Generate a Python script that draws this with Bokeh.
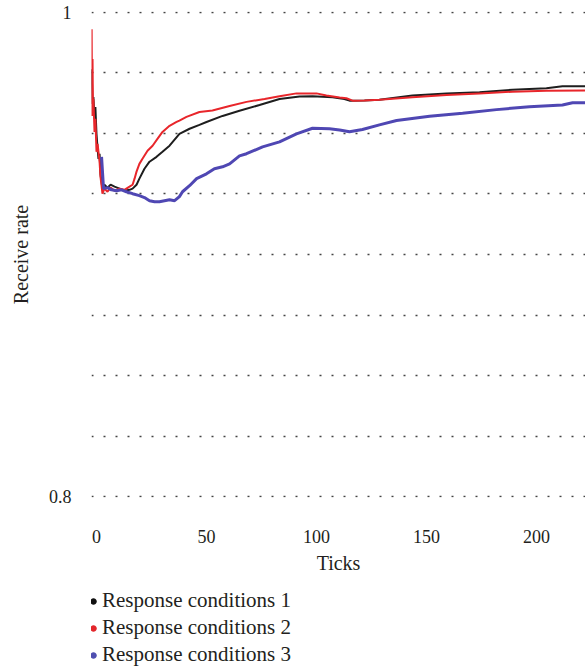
from bokeh.plotting import figure
from bokeh.models import (ColumnDataSource, Range1d, FixedTicker, SingleIntervalTicker,
                          Legend, LegendItem)
from bokeh.layouts import column
from bokeh.embed import file_html
from bokeh.resources import INLINE

# ---------------- data ----------------
x_ticks = [0, 50, 100, 150, 200]
y_ticks = [0.8, 1.0]
series_names = ["Response conditions 1", "Response conditions 2", "Response conditions 3"]

t1 = [-2.2, -1.8, -1.4, -0.9, -0.5, 0, 0.5, 0.9, 1.4, 1.8, 2.3, 2.7, 3.6, 5, 6.4,
      8.2, 10.5, 12.7, 15, 16.4, 18.2, 19.5, 21.8, 24.1, 27.3, 30, 33.2, 37.7, 42.3,
      46.8, 50, 57.3, 65, 74.1, 83.2, 92.3, 98.2, 107.3, 112.7, 115, 121.8, 128.6,
      143.6, 159.1, 174.1, 189.1, 204.5, 211.8, 222.3]
v1 = [0.9765, 0.9621, 0.9650, 0.9560, 0.9609, 0.9498, 0.9436, 0.9395, 0.9416, 0.9333,
      0.9300, 0.9272, 0.9288, 0.9276, 0.9288, 0.9280, 0.9272, 0.9263, 0.9267, 0.9272,
      0.9288, 0.9313, 0.9354, 0.9383, 0.9403, 0.9424, 0.9449, 0.9498, 0.9519, 0.9535,
      0.9547, 0.9572, 0.9593, 0.9617, 0.9642, 0.9652, 0.9653, 0.9649, 0.9642, 0.9635,
      0.9636, 0.9639, 0.9656, 0.9665, 0.9670, 0.9680, 0.9686, 0.9694, 0.9694]

t2 = [-2.2, -2.0, -1.8, -1.6, -1.4, -0.9, -0.5, 0, 0.5, 1.4, 1.8, 2.3, 2.7, 3.6, 5,
      6.4, 8.2, 10.5, 12.7, 15, 16.4, 17.3, 18.2, 19.5, 20.9, 23.2, 25.5, 27.7, 30,
      33.2, 36.4, 37.7, 40.9, 46.8, 52.7, 60.5, 68.2, 76.4, 83.2, 90.9, 100, 104.5,
      110.5, 113.6, 116.4, 121.8, 128.6, 143.6, 159.1, 174.1, 189.1, 204.5, 222.3]
v2 = [0.9930, 0.9572, 0.9807, 0.9601, 0.9642, 0.9506, 0.9560, 0.9424, 0.9457, 0.9383,
      0.9321, 0.9284, 0.9251, 0.9272, 0.9259, 0.9276, 0.9263, 0.9272, 0.9267, 0.9280,
      0.9288, 0.9313, 0.9342, 0.9374, 0.9395, 0.9428, 0.9449, 0.9477, 0.9506, 0.9531,
      0.9547, 0.9553, 0.9568, 0.9588, 0.9594, 0.9613, 0.9630, 0.9642, 0.9653, 0.9665,
      0.9665, 0.9656, 0.9648, 0.9645, 0.9635, 0.9636, 0.9639, 0.9649, 0.9658, 0.9665,
      0.9672, 0.9676, 0.9677]

t3 = [2.3, 3.2, 5, 6.8, 9.1, 11.4, 13.6, 16.4, 19.5, 21.8, 24.1, 26.4, 28.6, 30.9,
      33.2, 35.5, 37.7, 39.1, 42.3, 45.5, 50, 53.6, 57.3, 60.5, 65, 68.2, 75.5, 83.2,
      90.9, 98.2, 105.9, 110.5, 115, 120.9, 128.6, 136.4, 151.4, 166.4, 181.8, 196.8,
      211.8, 216.4, 222.3]
v3 = [0.9403, 0.9272, 0.9276, 0.9267, 0.9263, 0.9267, 0.9259, 0.9251, 0.9243, 0.9235,
      0.9222, 0.9218, 0.9218, 0.9222, 0.9226, 0.9222, 0.9239, 0.9259, 0.9284, 0.9313,
      0.9333, 0.9354, 0.9362, 0.9374, 0.9407, 0.9416, 0.9444, 0.9465, 0.9498, 0.9521,
      0.9519, 0.9514, 0.9507, 0.9516, 0.9535, 0.9553, 0.9571, 0.9583, 0.9598, 0.9610,
      0.9617, 0.9626, 0.9626]

# ---------------- styling ----------------
FONT = "Liberation Serif"
LEGEND_FONT = "'Liberation Serif', serif"
TEXT = "#231f20"
line_colors = ["#1e1e1e", "#e8262b", "#4f47b3"]
dot_colors = ["#111111", "#e3262b", "#4f4fb0"]
line_widths = [2, 2, 3]

p = figure(frame_width=494, frame_height=486,
           x_range=Range1d(-2.27, 222.27), y_range=Range1d(0.7997, 1.0003),
           output_backend="svg", toolbar_location=None,
           min_border_left=91, min_border_right=0, min_border_top=11,
           min_border_bottom=0)
p.outline_line_color = None
p.background_fill_color = "white"
p.border_fill_color = "white"

# grid
p.xgrid.visible = False
p.ygrid.ticker = SingleIntervalTicker(interval=0.025)
p.ygrid.grid_line_color = "#444444"
p.ygrid.grid_line_width = 1.5
p.ygrid.grid_line_dash = "2 10"

# x axis
xa = p.xaxis[0]
xa.ticker = FixedTicker(ticks=x_ticks)
xa.axis_line_color = None
xa.major_tick_line_color = None
xa.minor_tick_line_color = None
xa.major_tick_out = 0
xa.major_tick_in = 0
xa.major_label_standoff = 32
xa.major_label_text_font = FONT
xa.major_label_text_font_size = "18px"
xa.major_label_text_color = TEXT
xa.axis_label = "Ticks"
xa.axis_label_standoff = 6
xa.axis_label_text_font = FONT
xa.axis_label_text_font_size = "20px"
xa.axis_label_text_font_style = "normal"
xa.axis_label_text_color = TEXT

# y axis
ya = p.yaxis[0]
ya.ticker = FixedTicker(ticks=y_ticks)
ya.major_label_overrides = {1: "1", 0.8: "0.8"}
ya.axis_line_color = None
ya.major_tick_line_color = None
ya.minor_tick_line_color = None
ya.major_tick_out = 0
ya.major_tick_in = 0
ya.major_label_standoff = 20
ya.major_label_text_font = FONT
ya.major_label_text_font_size = "18px"
ya.major_label_text_color = TEXT
ya.axis_label = "Receive rate"
ya.axis_label_standoff = 14
ya.axis_label_text_font = FONT
ya.axis_label_text_font_size = "20px"
ya.axis_label_text_font_style = "normal"
ya.axis_label_text_color = TEXT

# lines
for t, v, c, w in zip([t1, t2, t3], [v1, v2, v3], line_colors, line_widths):
    p.line(t, v, line_color=c, line_width=w)

# ---------------- legend strip below the chart ----------------
lg = figure(width=585, height=91, output_backend="svg", toolbar_location=None,
            x_axis_type=None, y_axis_type=None, min_border=0,
            x_range=Range1d(0, 1), y_range=Range1d(0, 1))
lg.outline_line_color = None
lg.grid.visible = False

items = []
for name, c in zip(series_names, dot_colors):
    r = lg.scatter(x="x", y="y",
                   source=ColumnDataSource(dict(x=[float("nan")], y=[float("nan")])),
                   marker="circle", fill_color=c, line_color=c, size=6)
    items.append(LegendItem(label=name, renderers=[r]))

legend = Legend(items=items, location=(-5, 0), orientation="vertical",
                glyph_width=14, glyph_height=20, label_height=20, spacing=2,
                padding=0, margin=0, label_standoff=2,
                border_line_color=None, background_fill_alpha=0,
                label_text_font=LEGEND_FONT, label_text_font_size="21px",
                label_text_color=TEXT)
lg.add_layout(legend, "center")

layout = column(p, lg, spacing=0)
open("out.html", "w").write(file_html(layout, INLINE))
